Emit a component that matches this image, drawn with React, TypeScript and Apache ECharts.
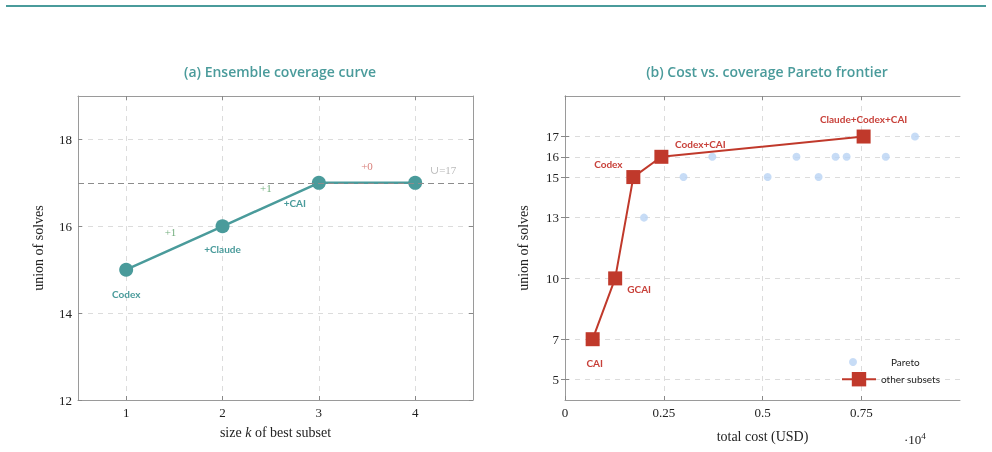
import React, { useEffect, useRef } from "react";
import * as echarts from "echarts";

// (a) ensemble coverage curve
const subsetSize = [1, 2, 3, 4];
const unionBest = [15, 16, 17, 17];
const bestLabels = ["Codex", "+Claude", "+CAI", ""];
const gainX = [1.46, 2.45, 3.5];
const gainY = [15.87, 16.88, 17.38];
const gainText = ["+1", "+1", "+0"];
const unionTotal = 17;
const leftYTicks = [12, 14, 16, 18];

// (b) cost vs coverage (cost in units of 1e4 USD)
const paretoCost = [0.07, 0.127, 0.173, 0.244, 0.756];
const paretoUnion = [7, 10, 15, 16, 17];
const paretoNames = ["CAI", "GCAI", "Codex", "Codex+CAI", "Claude+Codex+CAI"];
const otherCost = [0.2, 0.3, 0.373, 0.513, 0.586, 0.642, 0.685, 0.713, 0.812, 0.886];
const otherUnion = [13, 15, 16, 15, 16, 15, 16, 16, 16, 17];
const rightYTicks = [5, 7, 10, 13, 15, 16, 17];
const rightXTicks = [0, 0.25, 0.5, 0.75];

const TEAL = "#4a9b9b";
const RED = "#c0392b";
const BLUE = "#b9d3f4";
const SERIF = "'Liberation Serif', 'DejaVu Serif', serif";
const SANS = "Lato, 'Open Sans', sans-serif";

const bestOffsets = [[0, 24], [0, 23], [-24, 20], [0, 0]];
const paretoOffsets = [[2, 24], [24, 11], [-25, -13], [39, -13], [0, -18]];

export default function App() {
  const ref = useRef<HTMLDivElement>(null);
  useEffect(() => {
    if (!ref.current) return;
    const chart = echarts.init(ref.current, null, { renderer: "svg" });
    const axisLine = { show: true, lineStyle: { color: "#9a9a9a", width: 1 } };
    const tick = (vals: number[]) => ({ show: true, inside: true, length: 4, customValues: vals, lineStyle: { color: "#888" } });
    const split = { show: true, lineStyle: { color: "#dcdcdc", type: [5, 5] as any, width: 1 } };
    const tickLabel = { fontFamily: SERIF, fontSize: 13, color: "#222", margin: 6 };
    const titleStyle = { fontFamily: "'Open Sans', Lato, sans-serif", fontSize: 14, fontWeight: 600, color: TEAL };

    const option: any = {
      animation: false,
      title: [
        { text: "(a) Ensemble coverage curve", left: 275, top: 59, textAlign: "center", textStyle: titleStyle },
        { text: "(b) Cost vs. coverage Pareto frontier", left: 762, top: 59, textAlign: "center", textStyle: titleStyle },
      ],
      grid: [
        { left: 78, top: 96, width: 395, height: 304 },
        { left: 565, top: 96, width: 395, height: 304 },
      ],
      legend: [
        {
          orient: "vertical", left: 844, top: 352, itemWidth: 34, itemHeight: 8,
          data: ["Pareto"],
          textStyle: { fontFamily: SANS, fontSize: 10, color: "#222", padding: [0, 0, 0, 16] },
        },
        {
          orient: "vertical", left: 836, top: 367, itemWidth: 34, itemHeight: 18,
          data: ["other subsets"],
          textStyle: { fontFamily: SANS, fontSize: 10, color: "#222" },
        },
      ],
      xAxis: [
        { gridIndex: 0, type: "value", min: 0.5, max: 4.6, position: "bottom", axisLine, axisTick: tick(subsetSize),
          axisLabel: { ...tickLabel, customValues: subsetSize }, splitLine: split,
          name: "size {i|k} of best subset", nameLocation: "middle", nameGap: 25,
          nameTextStyle: { fontFamily: SERIF, fontSize: 14, color: "#222", rich: { i: { fontFamily: SERIF, fontSize: 14, fontStyle: "italic", color: "#222" } } } },
        { gridIndex: 0, type: "value", min: 0.5, max: 4.6, position: "top", axisLine, axisTick: tick(subsetSize), axisLabel: { show: false }, splitLine: { show: false } },
        { gridIndex: 1, type: "value", min: 0, max: 1, position: "bottom", axisLine, axisTick: tick(rightXTicks),
          axisLabel: { ...tickLabel, customValues: rightXTicks, formatter: (v: number) => String(v) }, splitLine: split,
          name: "total cost (USD)", nameLocation: "middle", nameGap: 29,
          nameTextStyle: { fontFamily: SERIF, fontSize: 14, color: "#222" } },
        { gridIndex: 1, type: "value", min: 0, max: 1, position: "top", axisLine, axisTick: tick(rightXTicks), axisLabel: { show: false }, splitLine: { show: false } },
      ],
      yAxis: [
        { gridIndex: 0, type: "value", min: 12, max: 19, position: "left", axisLine, axisTick: tick(leftYTicks),
          axisLabel: { ...tickLabel, customValues: leftYTicks }, splitLine: split,
          name: "union of solves", nameLocation: "middle", nameGap: 33,
          nameTextStyle: { fontFamily: SERIF, fontSize: 14, color: "#222" } },
        { gridIndex: 0, type: "value", min: 12, max: 19, position: "right", axisLine, axisTick: tick(leftYTicks), axisLabel: { show: false }, splitLine: { show: false } },
        { gridIndex: 1, type: "value", min: 4, max: 19, position: "left", axisLine, axisTick: tick(rightYTicks),
          axisLabel: { ...tickLabel, customValues: rightYTicks }, splitLine: split,
          name: "union of solves", nameLocation: "middle", nameGap: 35,
          nameTextStyle: { fontFamily: SERIF, fontSize: 14, color: "#222" } },
        { gridIndex: 1, type: "value", min: 4, max: 19, position: "right", axisLine, axisTick: tick(rightYTicks), axisLabel: { show: false }, splitLine: { show: false } },
      ],
      series: [
        {
          name: "best", type: "line", xAxisIndex: 0, yAxisIndex: 0,
          data: subsetSize.map((k, i) => ({
            value: [k, unionBest[i]],
            label: { show: !!bestLabels[i], formatter: bestLabels[i], position: "inside", offset: bestOffsets[i] },
          })),
          symbol: "circle", symbolSize: 14,
          lineStyle: { color: TEAL, width: 2.5 }, itemStyle: { color: TEAL },
          label: { fontFamily: SANS, fontSize: 10, fontWeight: "bold", color: TEAL },
          markLine: {
            silent: true, symbol: "none", label: { show: false },
            lineStyle: { color: "#8c8c8c", type: [6, 4], width: 1 },
            data: [{ yAxis: unionTotal }],
          },
          z: 3,
        },
        {
          name: "gains", type: "scatter", xAxisIndex: 0, yAxisIndex: 0, symbolSize: 0,
          data: gainX.map((x, i) => ({
            value: [x, gainY[i]],
            label: { show: true, formatter: gainText[i], position: "inside", color: gainText[i] === "+0" ? "#d0605a" : "#4f9a5c" },
          })).concat([{ value: [4.29, 17.29], label: { show: true, formatter: "\u222A=" + unionTotal, position: "inside", color: "#a8a8a8" } }]),
          label: { fontFamily: SERIF, fontSize: 11 },
          z: 4,
        },
        {
          name: "Pareto", type: "scatter", xAxisIndex: 2, yAxisIndex: 2,
          data: otherCost.map((c, i) => [c, otherUnion[i]]),
          symbol: "circle", symbolSize: 8, itemStyle: { color: BLUE },
        },
        {
          name: "other subsets", type: "line", xAxisIndex: 2, yAxisIndex: 2,
          data: paretoCost.map((c, i) => ({
            value: [c, paretoUnion[i]],
            label: { show: true, formatter: paretoNames[i], position: "inside", offset: paretoOffsets[i] },
          })),
          symbol: "rect", symbolSize: 14,
          lineStyle: { color: RED, width: 2 }, itemStyle: { color: RED },
          label: { fontFamily: SANS, fontSize: 10, fontWeight: "bold", color: "#c8413a" },
          z: 3,
        },
      ],
      graphic: [
        { type: "line", shape: { x1: 6, y1: 6, x2: 986, y2: 6 }, style: { stroke: TEAL, lineWidth: 2 } },
        { type: "text", left: 904, top: 431, style: { text: "{a|\u00B710}{s|4}", rich: { a: { fontFamily: SERIF, fontSize: 13, fill: "#222" }, s: { fontFamily: SERIF, fontSize: 9, fill: "#222", verticalAlign: "bottom", padding: [0, 0, 7, 0] } } } },
      ],
    };
    chart.setOption(option);
    return () => chart.dispose();
  }, []);
  return <div ref={ref} style={{ position: "fixed", left: 0, top: 0, width: 992, height: 452 }} />;
}
